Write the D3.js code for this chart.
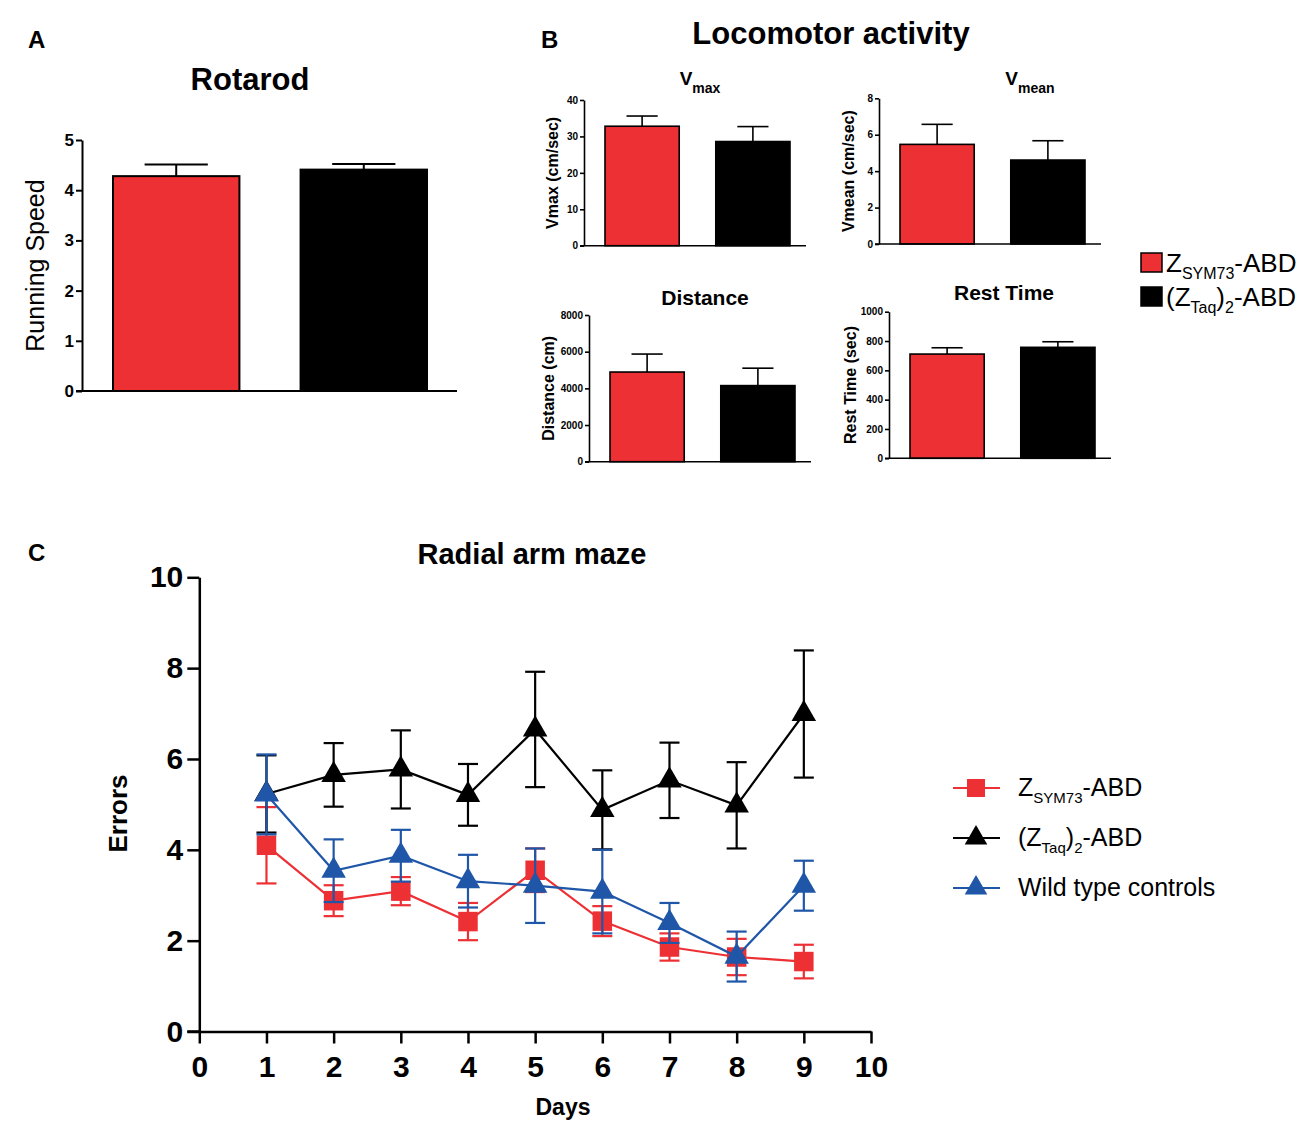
<!DOCTYPE html>
<html>
<head>
<meta charset="utf-8">
<script src="https://cdn.jsdelivr.net/npm/d3@7"></script>
<style>
  body { margin: 0; background: #fff; }
  svg { font-family: "Liberation Sans", Arial, sans-serif; }
</style>
</head>
<body>
<div id="vis"></div>
<script>
// ----- data -----
const groups = ["ZSYM73-ABD", "(ZTaq)2-ABD"];

const rotarodMean = [4.28, 4.41];
const rotarodSem = [0.23, 0.11];

const vmaxMean = [32.8, 28.6];
const vmaxSem = [2.8, 4.1];

const vmeanMean = [5.47, 4.61];
const vmeanSem = [1.10, 1.06];

const distMean = [4890, 4150];
const distSem = [980, 950];

const restMean = [711, 757];
const restSem = [43, 38];

const days = [1, 2, 3, 4, 5, 6, 7, 8, 9];
const symMean = [4.10, 2.88, 3.09, 2.42, 3.55, 2.43, 1.86, 1.64, 1.54];
const symSem  = [0.84, 0.34, 0.31, 0.41, 0.48, 0.33, 0.30, 0.40, 0.37];
const taqMean = [5.23, 5.65, 5.77, 5.21, 6.65, 4.88, 5.53, 4.98, 6.99];
const taqSem  = [0.85, 0.70, 0.86, 0.68, 1.27, 0.87, 0.83, 0.95, 1.40];
const wtMean  = [5.22, 3.54, 3.87, 3.31, 3.21, 3.08, 2.39, 1.65, 3.21];
const wtSem   = [0.88, 0.69, 0.57, 0.58, 0.82, 0.92, 0.44, 0.55, 0.55];

const RED = "#ec3034";
const BLUE = "#1f56a8";

const svg = d3.select("#vis").append("svg")
  .attr("width", 1300)
  .attr("height", 1124);

// panel letters
[["A", 28, 48], ["B", 541, 48], ["C", 28, 561]].forEach(([t, x, y]) => {
  svg.append("text").attr("x", x).attr("y", y)
    .style("font-size", "24px").style("font-weight", "bold").text(t);
});

// ----- bar panel helper -----
function barPanel(o, means, sems) {
  const g = svg.append("g");
  const y = d3.scaleLinear().domain(o.domain).range([o.bottom, o.top]);
  const x = d3.scaleBand().domain(groups)
    .range([o.left + o.barStart, o.left + o.barEnd])
    .paddingInner(o.pad);
  const data = groups.map((k, i) => ({ k, m: means[i], s: sems[i], c: i === 0 ? RED : "#000" }));

  // error bars (upper only)
  data.forEach(d => {
    const cx = x(d.k) + x.bandwidth() / 2;
    const cw = x.bandwidth() * o.cap / 2;
    g.append("line").attr("x1", cx).attr("x2", cx)
      .attr("y1", y(d.m)).attr("y2", y(d.m + d.s))
      .attr("stroke", "#000").attr("stroke-width", o.sw);
    g.append("line").attr("x1", cx - cw).attr("x2", cx + cw)
      .attr("y1", y(d.m + d.s)).attr("y2", y(d.m + d.s))
      .attr("stroke", "#000").attr("stroke-width", o.sw);
  });

  g.selectAll("rect").data(data).join("rect")
    .attr("x", d => x(d.k))
    .attr("y", d => y(d.m))
    .attr("width", x.bandwidth())
    .attr("height", d => y(0) - y(d.m))
    .attr("fill", d => d.c)
    .attr("stroke", "#000")
    .attr("stroke-width", o.sw);

  const ax = g.append("g")
    .attr("transform", `translate(${o.left},0)`)
    .call(d3.axisLeft(y).tickValues(o.ticks).tickSize(o.tick).tickSizeOuter(0)
      .tickPadding(2).tickFormat(d3.format("d")));
  ax.select(".domain").attr("stroke-width", o.sw);
  ax.selectAll(".tick line").attr("stroke-width", o.sw);
  ax.selectAll("text").style("font-size", o.tickFont + "px").style("font-weight", "bold").attr("fill", "#000");

  g.append("line")
    .attr("x1", o.left - o.tick).attr("x2", o.left + o.width)
    .attr("y1", y(0)).attr("y2", y(0))
    .attr("stroke", "#000").attr("stroke-width", o.sw);

  g.append("text")
    .attr("transform", `translate(${o.labelX},${(o.top + o.bottom) / 2}) rotate(-90)`)
    .attr("text-anchor", "middle")
    .attr("dy", "0.35em")
    .style("font-size", o.labelFont + "px")
    .style("font-weight", o.labelWeight)
    .text(o.label);
  return g;
}

// ----- A: Rotarod -----
svg.append("text").attr("x", 250).attr("y", 90).attr("text-anchor", "middle")
  .style("font-size", "31px").style("font-weight", "bold").text("Rotarod");

barPanel({
  domain: [0, 5], top: 140, bottom: 391, left: 82, width: 375,
  barStart: 31, barEnd: 345, pad: 0.326, cap: 0.5, sw: 2, tick: 6,
  ticks: [0, 1, 2, 3, 4, 5], tickFont: 17,
  label: "Running Speed", labelX: 35, labelFont: 25, labelWeight: "normal"
}, rotarodMean, rotarodSem);

// ----- B: Locomotor activity -----
svg.append("text").attr("x", 831).attr("y", 44).attr("text-anchor", "middle")
  .style("font-size", "31px").style("font-weight", "bold").text("Locomotor activity");

const smallOpts = { width: 222, barStart: 21, barEnd: 206, pad: 0.33, cap: 0.42, sw: 1.6, tick: 4, tickFont: 10, labelFont: 16, labelWeight: "bold" };

barPanel(Object.assign({}, smallOpts, {
  domain: [0, 40], top: 100, bottom: 245.7, left: 584,
  ticks: [0, 10, 20, 30, 40], label: "Vmax (cm/sec)", labelX: 552
}), vmaxMean, vmaxSem);

barPanel(Object.assign({}, smallOpts, {
  domain: [0, 8], top: 98.3, bottom: 244, left: 879,
  ticks: [0, 2, 4, 6, 8], label: "Vmean (cm/sec)", labelX: 848
}), vmeanMean, vmeanSem);

barPanel(Object.assign({}, smallOpts, {
  domain: [0, 8000], top: 315, bottom: 461.7, left: 589,
  ticks: [0, 2000, 4000, 6000, 8000], label: "Distance (cm)", labelX: 548
}), distMean, distSem);

barPanel(Object.assign({}, smallOpts, {
  domain: [0, 1000], top: 311.7, bottom: 458.3, left: 889,
  ticks: [0, 200, 400, 600, 800, 1000], label: "Rest Time (sec)", labelX: 850
}), restMean, restSem);

// subplot titles with subscripts
function subTitle(x, y, main, sub, size, subSize) {
  const t = svg.append("text").attr("x", x).attr("y", y).attr("text-anchor", "middle")
    .style("font-weight", "bold");
  t.append("tspan").style("font-size", size + "px").text(main);
  if (sub) t.append("tspan").attr("dy", 8).style("font-size", subSize + "px").text(sub);
}
subTitle(700, 85, "V", "max", 19, 14);
subTitle(1030, 85, "V", "mean", 19, 14);
subTitle(705, 305, "Distance", null, 21);
subTitle(1004, 300, "Rest Time", null, 21);

// legend for B
const legB = [
  { c: RED, parts: [["Z", 0], ["SYM73", 1], ["-ABD", 0]] },
  { c: "#000", parts: [["(Z", 0], ["Taq", 1], [")", 0], ["2", 1], ["-ABD", 0]] }
];
legB.forEach((d, i) => {
  const y0 = 253 + i * 34;
  svg.append("rect").attr("x", 1141).attr("y", y0).attr("width", 21).attr("height", 19)
    .attr("fill", d.c).attr("stroke", "#000").attr("stroke-width", 1.5);
  const t = svg.append("text").attr("x", 1166).attr("y", y0 + 19).style("font-size", "26px");
  let prev = 0;
  d.parts.forEach(([s, sub]) => {
    t.append("tspan").attr("dy", (sub - prev) * 7)
      .style("font-size", sub ? "16px" : "26px").text(s);
    prev = sub;
  });
});

// ----- C: Radial arm maze -----
svg.append("text").attr("x", 532).attr("y", 564).attr("text-anchor", "middle")
  .style("font-size", "29px").style("font-weight", "bold").text("Radial arm maze");

const cx = d3.scaleLinear().domain([0, 10]).range([199.3, 871]);
const cy = d3.scaleLinear().domain([0, 10]).range([1031.5, 577.3]);

const xAx = svg.append("g").attr("transform", `translate(0,${cy(0)})`)
  .call(d3.axisBottom(cx).ticks(10).tickSize(12).tickSizeOuter(0).tickPadding(12));
const yAx = svg.append("g").attr("transform", `translate(${cx(0)},0)`)
  .call(d3.axisLeft(cy).tickValues([0, 2, 4, 6, 8, 10]).tickSize(12).tickSizeOuter(0).tickPadding(4));
[xAx, yAx].forEach(a => {
  a.select(".domain").attr("stroke-width", 2.5);
  a.selectAll(".tick line").attr("stroke-width", 2.5);
  a.selectAll("text").attr("fill", "#000").style("font-weight", "bold").style("font-size", "30px");
});
svg.append("line").attr("x1", cx(0) - 12).attr("x2", cx(0))
  .attr("y1", cy(0)).attr("y2", cy(0)).attr("stroke", "#000").attr("stroke-width", 2.5);

svg.append("text").attr("x", 563).attr("y", 1115).attr("text-anchor", "middle")
  .style("font-size", "23px").style("font-weight", "bold").text("Days");
svg.append("text")
  .attr("transform", `translate(118,${cy(4.8)}) rotate(-90)`)
  .attr("text-anchor", "middle").attr("dy", "0.35em")
  .style("font-size", "26px").style("font-weight", "bold").text("Errors");

const series = [
  { name: "sym", mean: symMean, sem: symSem, color: RED, shape: d3.symbolSquare, size: 380 },
  { name: "taq", mean: taqMean, sem: taqSem, color: "#000", shape: d3.symbolTriangle, size: 260 },
  { name: "wt", mean: wtMean, sem: wtSem, color: BLUE, shape: d3.symbolTriangle, size: 260 }
];

const line = d3.line().x(d => cx(d.day)).y(d => cy(d.m));

series.forEach(s => {
  const pts = days.map((day, i) => ({ day, m: s.mean[i], e: s.sem[i] }));
  const g = svg.append("g");
  g.append("path").datum(pts).attr("d", line)
    .attr("fill", "none").attr("stroke", s.color).attr("stroke-width", 2.2);
  pts.forEach(p => {
    const x = cx(p.day);
    g.append("line").attr("x1", x).attr("x2", x)
      .attr("y1", cy(p.m - p.e)).attr("y2", cy(p.m + p.e))
      .attr("stroke", s.color).attr("stroke-width", 2.2);
    [p.m - p.e, p.m + p.e].forEach(v => {
      g.append("line").attr("x1", x - 10).attr("x2", x + 10)
        .attr("y1", cy(v)).attr("y2", cy(v))
        .attr("stroke", s.color).attr("stroke-width", 2.2);
    });
  });
  g.selectAll(".pt").data(pts).join("path")
    .attr("class", "pt")
    .attr("transform", d => `translate(${cx(d.day)},${cy(d.m)})`)
    .attr("d", d3.symbol().type(s.shape).size(s.size))
    .attr("fill", s.color);
});

// legend for C
const legC = [
  { parts: [["Z", 0], ["SYM73", 1], ["-ABD", 0]] },
  { parts: [["(Z", 0], ["Taq", 1], [")", 0], ["2", 1], ["-ABD", 0]] },
  { parts: [["Wild type controls", 0]] }
];
legC.forEach((d, i) => {
  const s = series[i];
  const y0 = 788 + i * 50;
  svg.append("line").attr("x1", 953).attr("x2", 1000).attr("y1", y0).attr("y2", y0)
    .attr("stroke", s.color).attr("stroke-width", 2.2);
  svg.append("path").attr("transform", `translate(976,${y0})`)
    .attr("d", d3.symbol().type(s.shape).size(s.size * 0.85)).attr("fill", s.color);
  const t = svg.append("text").attr("x", 1018).attr("y", y0 + 8).style("font-size", "25px");
  let prev = 0;
  d.parts.forEach(([str, sub]) => {
    t.append("tspan").attr("dy", (sub - prev) * 7)
      .style("font-size", sub ? "15px" : "25px").text(str);
    prev = sub;
  });
});
</script>
</body>
</html>
